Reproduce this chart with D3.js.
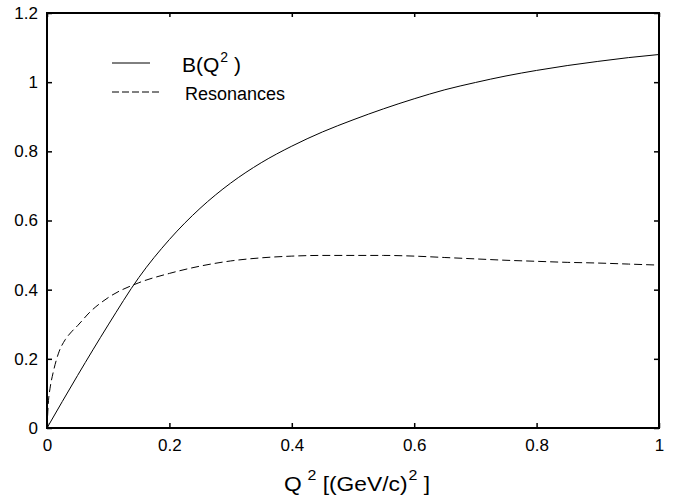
<!DOCTYPE html>
<meta charset="utf-8">
<style>
 body { margin: 0; background: #fff; }
 svg { font-family: 'Liberation Sans', Helvetica, Arial, sans-serif; }
 .axis text { font-size: 17px; fill: #000; }
 .axis line { stroke: #000; stroke-width: 1.5; }
 .frame { fill: none; stroke: #000; stroke-width: 2; }
 .curve { fill: none; stroke: #000; stroke-width: 1; }
</style>
<body>
<script src="https://cdn.jsdelivr.net/npm/d3@7"></script>
<script>

 var xTicks = [0, 0.2, 0.4, 0.6, 0.8, 1];
 var xTickLabels = ["0", "0.2", "0.4", "0.6", "0.8", "1"];
 var yTicks = [0, 0.2, 0.4, 0.6, 0.8, 1, 1.2];
 var yTickLabels = ["0", "0.2", "0.4", "0.6", "0.8", "1", "1.2"];

 // B(Q^2), solid line
 var bQ2 = [0, 0.05, 0.1, 0.15, 0.2, 0.25, 0.3, 0.35, 0.4, 0.45, 0.5, 0.55, 0.6, 0.65, 0.7, 0.75, 0.8, 0.85, 0.9, 0.95, 1];
 var bVal = [0, 0.152, 0.298, 0.435, 0.545, 0.635, 0.708, 0.767, 0.815, 0.856, 0.891, 0.923, 0.952, 0.978, 0.999, 1.018, 1.034, 1.048, 1.06, 1.071, 1.08];

 // Resonances, dashed line
 var resQ2 = [0, 0.0025, 0.005, 0.01, 0.015, 0.02, 0.03, 0.04, 0.05, 0.07, 0.1, 0.15, 0.2, 0.25, 0.3, 0.35, 0.4, 0.45, 0.5, 0.55, 0.6, 0.65, 0.7, 0.75, 0.8, 0.85, 0.9, 0.95, 1];
 var resVal = [0, 0.08, 0.115, 0.16, 0.195, 0.222, 0.256, 0.278, 0.296, 0.335, 0.377, 0.42, 0.447, 0.468, 0.483, 0.492, 0.497, 0.499, 0.499, 0.499, 0.497, 0.493, 0.489, 0.485, 0.482, 0.479, 0.477, 0.474, 0.471];

 var margin = {top: 13, right: 15, bottom: 71, left: 47},
     width = 674 - margin.left - margin.right,
     height = 499 - margin.top - margin.bottom;

 var xScale = d3.scaleLinear().domain([0, 1]).range([0, width]);
 var yScale = d3.scaleLinear().domain([0, 1.2]).range([height, 0]);

 var svg = d3.select("body").append("svg")
             .attr("width", 674)
             .attr("height", 499)
             .append("g")
             .attr("transform", "translate(" + margin.left + "," + margin.top + ")");

 function fmt(ticks, labels) {
     return function(d) { return labels[ticks.indexOf(d)]; };
 }

 // bottom and left axes with inward ticks
 svg.append("g")
    .attr("class", "axis")
    .attr("transform", "translate(0," + height + ")")
    .call(d3.axisBottom(xScale).tickValues(xTicks).tickFormat(fmt(xTicks, xTickLabels))
            .tickSizeInner(-5).tickSizeOuter(0).tickPadding(11));

 svg.append("g")
    .attr("class", "axis")
    .call(d3.axisLeft(yScale).tickValues(yTicks).tickFormat(fmt(yTicks, yTickLabels))
            .tickSizeInner(-5).tickSizeOuter(0).tickPadding(9));

 // top and right: ticks only
 svg.append("g")
    .attr("class", "axis")
    .call(d3.axisTop(xScale).tickValues(xTicks).tickFormat("")
            .tickSizeInner(-4).tickSizeOuter(0));

 svg.append("g")
    .attr("class", "axis")
    .attr("transform", "translate(" + width + ",0)")
    .call(d3.axisRight(yScale).tickValues(yTicks).tickFormat("")
            .tickSizeInner(-5).tickSizeOuter(0));

 svg.selectAll(".axis .domain").remove();

 svg.append("rect")
    .attr("class", "frame")
    .attr("width", width)
    .attr("height", height);

 var line = d3.line()
              .x(function(d) { return xScale(d[0]); })
              .y(function(d) { return yScale(d[1]); })
              .curve(d3.curveMonotoneX);

 svg.append("path")
    .datum(d3.zip(bQ2, bVal))
    .attr("class", "curve")
    .attr("d", line);

 svg.append("path")
    .datum(d3.zip(resQ2, resVal))
    .attr("class", "curve")
    .attr("stroke-dasharray", "8,4")
    .attr("d", line);

 // legend
 var leg = svg.append("g").attr("transform", "translate(" + (112 - margin.left) + ",0)");
 leg.append("line")
    .attr("class", "curve")
    .attr("x1", 0).attr("x2", 38)
    .attr("y1", 63 - margin.top).attr("y2", 63 - margin.top);
 var bt = leg.append("text")
             .attr("x", 70).attr("y", 72 - margin.top)
             .attr("font-size", "21px");
 bt.append("tspan").text("B(Q");
 bt.append("tspan").attr("font-size", "14px").attr("dy", -10).attr("dx", 1).text("2");
 bt.append("tspan").attr("dy", 10).text(" )");

 leg.append("line")
    .attr("class", "curve")
    .attr("stroke-dasharray", "7,3")
    .attr("x1", 0).attr("x2", 50)
    .attr("y1", 92 - margin.top).attr("y2", 92 - margin.top);
 leg.append("text")
    .attr("x", 73).attr("y", 100 - margin.top)
    .attr("font-size", "18px")
    .text("Resonances");

 // x axis label
 var xl = svg.append("text")
             .attr("transform", "translate(" + (284 - margin.left) + "," + (491 - margin.top) + ") scale(1.14,1)")
             .attr("font-size", "20px");
 xl.append("tspan").text("Q");
 xl.append("tspan").attr("font-size", "14px").attr("dy", -11).attr("dx", 5).text("2");
 xl.append("tspan").attr("dy", 11).text(" [(GeV/c)");
 xl.append("tspan").attr("font-size", "14px").attr("dy", -11).attr("dx", 1).text("2");
 xl.append("tspan").attr("dy", 11).text(" ]");

</script>
</body>
